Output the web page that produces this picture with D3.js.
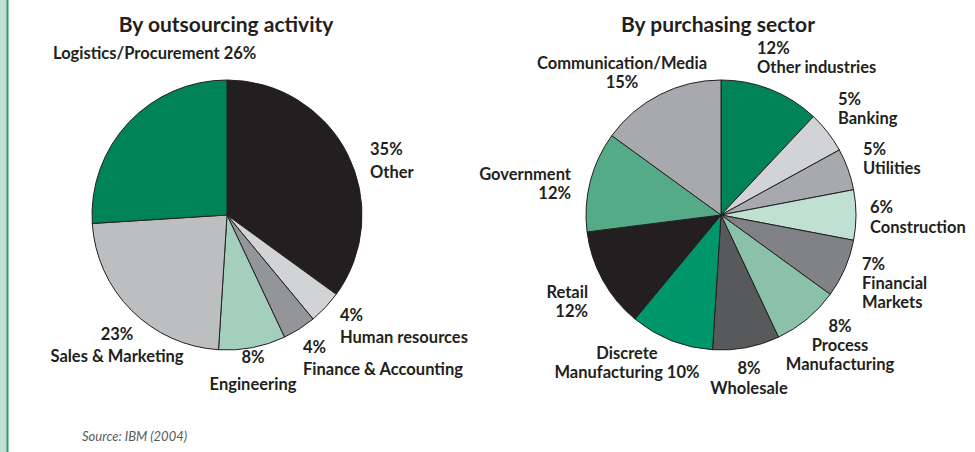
<!DOCTYPE html>
<html>
<head>
<meta charset="utf-8">
<script src="https://cdn.jsdelivr.net/npm/d3@7"></script>
<style>
  html, body { margin: 0; padding: 0; background: #fff; }
  svg { display: block; }
  text { font-family: Lato, "Open Sans", sans-serif; font-weight: 700; fill: #231f20; }
</style>
</head>
<body>
<svg id="chart" width="975" height="452"></svg>
<script>
// Outsourcing spend by activity (clockwise from 12 o'clock)
const activityNames  = ["Other", "Human resources", "Finance & Accounting", "Engineering", "Sales & Marketing", "Logistics/Procurement"];
const activityShares = [35, 4, 4, 8, 23, 26];
const activityColors = ["#231f20", "#d1d3d4", "#939598", "#a5cfbd", "#bcbec0", "#008457"];

// Outsourcing spend by purchasing sector (clockwise from 12 o'clock)
const sectorNames  = ["Other industries", "Banking", "Utilities", "Construction", "Financial Markets",
                      "Process Manufacturing", "Wholesale", "Discrete Manufacturing", "Retail", "Government", "Communication/Media"];
const sectorShares = [12, 5, 5, 6, 7, 8, 8, 10, 12, 12, 15];
const sectorColors = ["#008457", "#d1d3d4", "#a7a9ac", "#c0e0d3", "#808285",
                      "#8cc1a9", "#58595b", "#00966b", "#231f20", "#55ab88", "#a7a9ac"];

const svg = d3.select("#chart");

// side rule
svg.append("rect").attr("x", 0).attr("y", 0).attr("width", 7).attr("height", 452).attr("fill", "#c0e0d3");
svg.append("rect").attr("x", 6.5).attr("y", 0).attr("width", 2).attr("height", 452).attr("fill", "#2e9a6b");

const radius = 135;
const arc = d3.arc().innerRadius(0).outerRadius(radius);
const pie = d3.pie().sort(null).value(d => d.share);

function drawPie(cx, cy, title, titleX, names, shares, colors, labels) {
  const data = names.map((n, i) => ({ name: n, share: shares[i], color: colors[i] }));
  const g = svg.append("g").attr("transform", `translate(${cx},${cy})`);
  g.selectAll("path")
    .data(pie(data))
    .join("path")
    .attr("d", arc)
    .attr("fill", d => d.data.color)
    .attr("stroke", "#231f20")
    .attr("stroke-width", 1)
    .attr("stroke-linejoin", "round");

  svg.append("text")
    .attr("x", titleX).attr("y", 32)
    .attr("text-anchor", "middle")
    .style("font-size", "21px")
    .text(title);

  // labels: each entry gives the lines (with {v} for the value) and placement
  labels.forEach(l => {
    const i = names.indexOf(l.name);
    const t = svg.append("text")
      .attr("text-anchor", l.anchor || "start")
      .style("font-size", "16.5px");
    l.lines.forEach((line, k) => {
      t.append("tspan")
        .attr("x", l.x)
        .attr("y", l.y + k * (l.lh || 20))
        .text(line.replace("{v}", shares[i] + "%"));
    });
  });
}

drawPie(227, 215, "By outsourcing activity", 226, activityNames, activityShares, activityColors, [
  { name: "Logistics/Procurement", x: 53, y: 59, lines: ["Logistics/Procurement {v}"] },
  { name: "Other", x: 370, y: 155, lh: 23, lines: ["{v}", "Other"] },
  { name: "Human resources", x: 340, y: 321, lh: 22, lines: ["{v}", "Human resources"] },
  { name: "Finance & Accounting", x: 303, y: 353, lh: 22, lines: ["{v}", "Finance & Accounting"] },
  { name: "Engineering", x: 253, y: 363, lh: 27, anchor: "middle", lines: ["{v}", "Engineering"] },
  { name: "Sales & Marketing", x: 117, y: 340, lh: 22, anchor: "middle", lines: ["{v}", "Sales & Marketing"] }
]);

drawPie(721, 215, "By purchasing sector", 718, sectorNames, sectorShares, sectorColors, [
  { name: "Other industries", x: 757, y: 54, lh: 19, lines: ["{v}", "Other industries"] },
  { name: "Communication/Media", x: 622, y: 69, lh: 19, anchor: "middle", lines: ["Communication/Media", "{v}"] },
  { name: "Banking", x: 838, y: 105, lh: 19, lines: ["{v}", "Banking"] },
  { name: "Utilities", x: 863, y: 155, lh: 19, lines: ["{v}", "Utilities"] },
  { name: "Construction", x: 870, y: 213, lh: 20, lines: ["{v}", "Construction"] },
  { name: "Financial Markets", x: 862, y: 270, lh: 19, lines: ["{v}", "Financial", "Markets"] },
  { name: "Process Manufacturing", x: 840, y: 332, lh: 19, anchor: "middle", lines: ["{v}", "Process", "Manufacturing"] },
  { name: "Wholesale", x: 749, y: 374, lh: 19.5, anchor: "middle", lines: ["{v}", "Wholesale"] },
  { name: "Discrete Manufacturing", x: 627, y: 359, lh: 19, anchor: "middle", lines: ["Discrete", "Manufacturing {v}"] },
  { name: "Retail", x: 588, y: 298, lh: 19, anchor: "end", lines: ["Retail", "{v}"] },
  { name: "Government", x: 571, y: 179.5, lh: 19.5, anchor: "end", lines: ["Government", "{v}"] }
]);

svg.append("text")
  .attr("x", 82).attr("y", 441)
  .style("font-size", "13px")
  .style("font-weight", "400")
  .style("font-style", "italic")
  .style("fill", "#58595b")
  .text("Source: IBM (2004)");
</script>
</body>
</html>
